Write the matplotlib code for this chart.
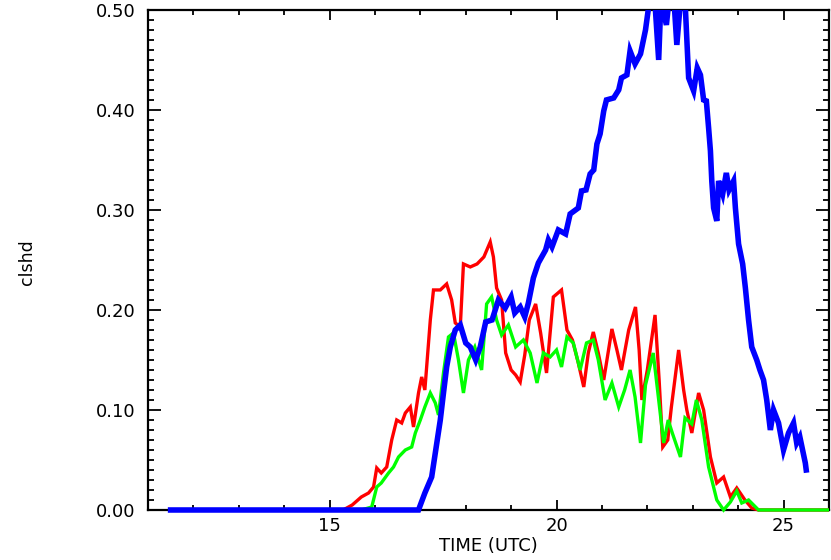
import matplotlib
matplotlib.use("Agg")
import matplotlib.pyplot as plt
from matplotlib.ticker import MultipleLocator, FormatStrFormatter
from matplotlib.transforms import Bbox, TransformedBbox

# cloud fraction series (hours UTC, clshd)
red_time = [11.5, 15.3, 15.5, 15.7, 15.86, 15.97, 16.04, 16.14, 16.26, 16.37,
            16.48, 16.59, 16.67, 16.78, 16.85, 16.96, 17.03, 17.1, 17.22, 17.29,
            17.44, 17.58, 17.69, 17.77, 17.88, 17.95, 18.1, 18.25, 18.4, 18.54,
            18.61, 18.68, 18.79, 18.88, 19.0, 19.1, 19.2, 19.3, 19.4, 19.54,
            19.65, 19.78, 19.93, 20.11, 20.23, 20.35, 20.48, 20.6, 20.7, 20.81,
            20.92, 21.04, 21.22, 21.33, 21.43, 21.59, 21.74, 21.82, 21.88, 22.0,
            22.17, 22.26, 22.34, 22.45, 22.53, 22.69, 22.8, 22.87, 22.98, 23.13,
            23.24, 23.39, 23.53, 23.68, 23.83, 23.97, 24.15, 24.3, 24.45, 26.0]
red_clshd = [0.0, 0.0, 0.005, 0.013, 0.017, 0.023, 0.042, 0.037, 0.043, 0.07,
             0.09, 0.087, 0.097, 0.103, 0.083, 0.117, 0.133, 0.12, 0.19, 0.22,
             0.22, 0.226, 0.21, 0.187, 0.183, 0.246, 0.243, 0.246, 0.253, 0.268,
             0.253, 0.222, 0.21, 0.157, 0.14, 0.135, 0.128, 0.155, 0.19, 0.206,
             0.177, 0.137, 0.213, 0.22, 0.18, 0.17, 0.147, 0.123, 0.157, 0.178,
             0.157, 0.13, 0.181, 0.16, 0.14, 0.18, 0.203, 0.16, 0.11, 0.14,
             0.195, 0.13, 0.063, 0.07, 0.103, 0.16, 0.12, 0.1, 0.077, 0.117,
             0.1, 0.053, 0.027, 0.033, 0.013, 0.022, 0.01, 0.002, 0.0, 0.0]

green_time = [11.5, 15.7, 15.93, 16.04, 16.14, 16.3, 16.41, 16.52, 16.67, 16.81,
              16.89, 17.0, 17.1, 17.22, 17.33, 17.4, 17.51, 17.62, 17.73, 17.84,
              17.95, 18.06, 18.2, 18.35, 18.46, 18.57, 18.68, 18.79, 18.94, 19.1,
              19.27, 19.42, 19.57, 19.71, 19.86, 20.0, 20.11, 20.23, 20.37, 20.52,
              20.66, 20.81, 20.92, 21.07, 21.22, 21.37, 21.5, 21.62, 21.73, 21.85,
              21.96, 22.13, 22.22, 22.36, 22.46, 22.55, 22.73, 22.83, 22.98, 23.08,
              23.2, 23.35, 23.53, 23.68, 23.83, 23.97, 24.08, 24.23, 24.45, 26.0]
green_clshd = [0.0, 0.0, 0.003, 0.023, 0.027, 0.037, 0.043, 0.053, 0.06, 0.063,
               0.077, 0.09, 0.103, 0.117, 0.107, 0.095, 0.137, 0.173, 0.177, 0.15,
               0.117, 0.15, 0.163, 0.14, 0.206, 0.213, 0.19, 0.175, 0.185, 0.163,
               0.17, 0.157, 0.127, 0.157, 0.153, 0.16, 0.143, 0.173, 0.167, 0.14,
               0.167, 0.17, 0.15, 0.11, 0.127, 0.103, 0.12, 0.14, 0.113, 0.067,
               0.125, 0.157, 0.122, 0.067, 0.09, 0.077, 0.053, 0.092, 0.086, 0.11,
               0.09, 0.043, 0.01, 0.0, 0.008, 0.019, 0.007, 0.01, 0.0, 0.0]

blue_time = [11.5, 16.96, 17.1, 17.25, 17.33, 17.44, 17.51, 17.58, 17.66, 17.77,
             17.88, 18.0, 18.1, 18.22, 18.32, 18.44, 18.58, 18.72, 18.87, 19.0,
             19.08, 19.2, 19.3, 19.38, 19.49, 19.6, 19.76, 19.82, 19.9, 20.04,
             20.2, 20.3, 20.48, 20.55, 20.65, 20.74, 20.82, 20.89, 20.96, 21.04,
             21.1, 21.26, 21.37, 21.43, 21.55, 21.62, 21.73, 21.85, 21.96, 22.05,
             22.15, 22.25, 22.3, 22.42, 22.5, 22.58, 22.65, 22.75, 22.84, 22.91,
             23.02, 23.1, 23.17, 23.24, 23.3, 23.35, 23.39, 23.42, 23.46, 23.53,
             23.57, 23.66, 23.74, 23.8, 23.9, 23.94, 24.01, 24.1, 24.16, 24.23,
             24.3, 24.41, 24.48, 24.56, 24.63, 24.71, 24.78, 24.89, 25.0, 25.11,
             25.22, 25.29, 25.36, 25.48, 25.5]
blue_clshd = [0.0, 0.0, 0.017, 0.033, 0.057, 0.09, 0.117, 0.143, 0.163, 0.18,
              0.185, 0.167, 0.163, 0.15, 0.163, 0.188, 0.19, 0.21, 0.202, 0.213,
              0.197, 0.203, 0.193, 0.207, 0.232, 0.247, 0.26, 0.27, 0.263, 0.28,
              0.276, 0.296, 0.302, 0.319, 0.32, 0.336, 0.34, 0.366, 0.376, 0.399,
              0.41, 0.412, 0.42, 0.432, 0.435, 0.459, 0.446, 0.456, 0.48, 0.51,
              0.52, 0.45, 0.51, 0.485, 0.52, 0.515, 0.465, 0.52, 0.5, 0.432,
              0.419, 0.442, 0.435, 0.41, 0.409, 0.382, 0.359, 0.329, 0.302, 0.289,
              0.329, 0.316, 0.337, 0.32, 0.329, 0.302, 0.266, 0.246, 0.222, 0.19,
              0.163, 0.15, 0.14, 0.13, 0.11, 0.08, 0.1, 0.087, 0.06, 0.077,
              0.087, 0.067, 0.073, 0.047, 0.04]

plt.rcParams["font.family"] = ["DejaVu Sans"]

fig = plt.figure(figsize=(8.31, 5.6), dpi=100)
ax = fig.add_axes([0.178, 0.0893, 0.8195, 0.893])

series = [(red_time, red_clshd, "#ff0000", 2.4),
          (green_time, green_clshd, "#00ff00", 2.4),
          (blue_time, blue_clshd, "#0000ff", 4.0)]
# clip at the top of the plot but let the zero line sit on the axis
clip = TransformedBbox(Bbox([[0, -0.02], [1, 1]]), ax.transAxes)
for t, v, c, lw in series:
    ln, = ax.plot(t, v, color=c, lw=lw, zorder=3, solid_joinstyle="miter")
    ln.set_clip_box(clip)

ax.set_xlim(11, 26)
ax.set_ylim(0, 0.5)
ax.xaxis.set_major_locator(MultipleLocator(5))
ax.xaxis.set_minor_locator(MultipleLocator(1))
ax.yaxis.set_major_locator(MultipleLocator(0.1))
ax.yaxis.set_minor_locator(MultipleLocator(0.01))
ax.yaxis.set_major_formatter(FormatStrFormatter("%.2f"))

ax.tick_params(axis="both", which="both", direction="in",
               top=True, right=True, width=1.3, labelsize=13)
ax.tick_params(axis="x", which="major", length=7.5, pad=5)
ax.tick_params(axis="x", which="minor", length=3.5)
ax.tick_params(axis="y", which="major", length=9.5, pad=9)
ax.tick_params(axis="y", which="minor", length=4)
for sp in ax.spines.values():
    sp.set_linewidth(1.6)

ax.set_xlabel("TIME (UTC)", fontsize=13)
ax.xaxis.set_label_coords(0.5, -0.054)
ax.set_ylabel("clshd", fontsize=12.5, va="center")
ax.yaxis.set_label_coords(-0.178, 0.496)

fig.savefig("out.png", dpi=100)
